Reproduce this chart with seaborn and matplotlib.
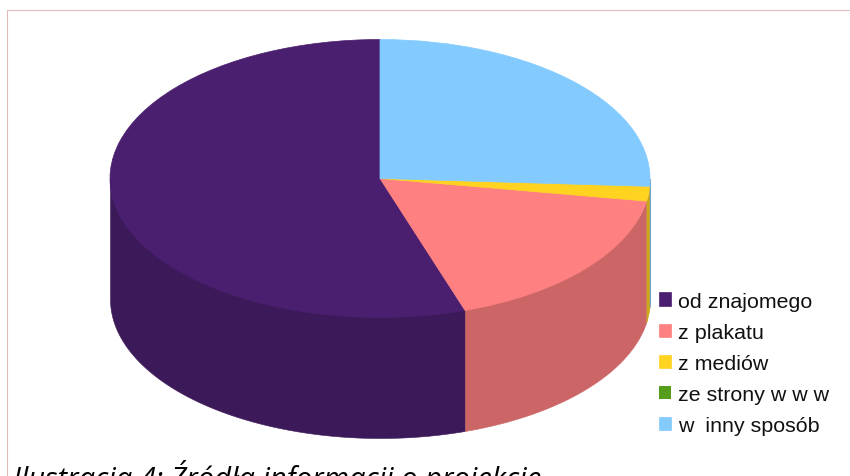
import numpy as np
import seaborn as sns
import matplotlib.pyplot as plt
from matplotlib.lines import Line2D

labels = ['od znajomego', 'z plakatu', 'z mediów', 'ze strony w w w', 'w  inny sposób']
shares = [55.1, 17.3, 1.7, 0.0, 25.9]
top_colors = ['#4b1f6f', '#ff8080', '#ffd320', '#579d1c', '#83caff']
side_colors = ['#3c1958', '#cc6666', '#cca81a', '#467e16', '#69a2cc']
caption = 'Ilustracja 4: Źródła informacji o projekcie'

W, H = 850, 477
CX, CY = 380, 179.5   # pie centre in pixels
RX, RY = 270, 139     # squashed radius
DEPTH = 120.5 / RY

sns.set_theme(style='white')
plt.rcParams['font.family'] = ['Liberation Sans', 'DejaVu Sans']

fig = plt.figure(figsize=(W / 100, H / 100), dpi=100)
ax = fig.add_axes([0, 0, 1, 1])

# the rim first, only the front half of it can be seen
start = 90.0
for share, color in zip(shares, sns.color_palette(side_colors)):
    end = start + share * 3.6
    a = max(start, 180.0)
    b = min(end, 360.0)
    if b > a:
        t = np.radians(np.linspace(a, b, 200))
        # runs a little under the top face so no seam shows
        ax.fill_between(np.cos(t), np.sin(t) - DEPTH, np.sin(t) * 0.97, color=color, lw=0.4)
    start = end

wedges, _ = ax.pie(shares, colors=sns.color_palette(top_colors), startangle=90,
                   counterclock=True)
for w, share in zip(wedges, shares):
    w.set_edgecolor(w.get_facecolor())
    w.set_linewidth(0.5 if share > 0 else 0)

# pie() fixes the limits and aspect, so stretch it afterwards
ax.set_aspect('auto')
ax.set_xlim(-CX / RX, (W - CX) / RX)
ax.set_ylim((CY - H) / RY, CY / RY)
ax.axis('off')

fig.legend(wedges, labels, loc='upper left', bbox_to_anchor=(650.4 / W, 1 - 284 / H),
           frameon=False, fontsize=15.4, handlelength=0.56, handleheight=0.56,
           handletextpad=0.33, labelspacing=0.565, borderpad=0.4, borderaxespad=0,
           labelcolor='#111111')

# page border and cut off caption below the chart
border = '#e0bcbc'
fig.add_artist(Line2D([7.2 / W, 7.2 / W], [0, 1 - 10.7 / H], color=border, lw=0.8))
fig.add_artist(Line2D([7.2 / W, 1], [1 - 10.7 / H, 1 - 10.7 / H], color=border, lw=0.8))
fig.text(13 / W, 1 - 488 / H, caption, fontsize=21, style='italic', family='Open Sans',
         color='black', ha='left', va='baseline')

fig.savefig('out.png', dpi=100)
